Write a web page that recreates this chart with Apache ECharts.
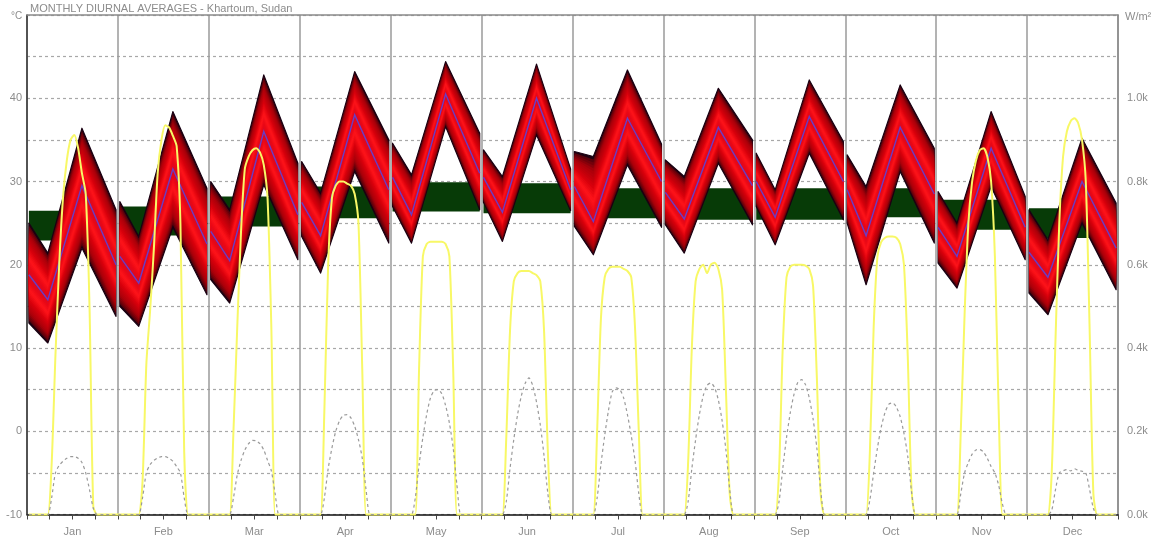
<!DOCTYPE html>
<html>
<head>
<meta charset="utf-8">
<script src="https://cdn.jsdelivr.net/npm/echarts@6/dist/echarts.min.js"></script>
<style>
  html, body { margin: 0; padding: 0; background: #fff; }
  #chart { width: 1170px; height: 547px; }
</style>
</head>
<body>
<div id="chart"></div>
<script>
// Monthly diurnal averages, Khartoum (Sudan)
const MONTHS = ['Jan', 'Feb', 'Mar', 'Apr', 'May', 'Jun', 'Jul', 'Aug', 'Sep', 'Oct', 'Nov', 'Dec'];

// Hours of the day at which the temperature envelope changes direction
const KEY_HOURS = [0, 5, 14, 23];

// Hourly temperature envelope (°C) at KEY_HOURS, per month
const TEMP_MAX = [
  [25.0, 21.4, 36.4, 26.6], [27.6, 23.4, 38.4, 29.2], [30.0, 26.6, 42.8, 32.2],
  [32.4, 28.6, 43.2, 35.0], [34.6, 30.8, 44.4, 35.8], [33.8, 30.6, 44.1, 31.5],
  [33.6, 33.0, 43.4, 34.5], [32.6, 30.6, 41.2, 35.0], [33.4, 29.0, 42.2, 34.8],
  [33.2, 29.4, 41.6, 34.0], [28.8, 25.0, 38.4, 28.2], [26.6, 23.0, 35.2, 27.4]
];
const TEMP_AVG = [
  [18.8, 15.8, 29.5, 20.0], [21.0, 17.8, 31.5, 22.5], [24.0, 20.5, 36.0, 26.0],
  [27.5, 23.5, 38.0, 29.0], [30.5, 26.0, 40.5, 31.0], [30.5, 26.3, 40.0, 29.0],
  [29.4, 25.2, 37.6, 30.0], [28.7, 25.5, 36.5, 29.5], [30.0, 25.7, 37.8, 30.0],
  [29.0, 23.5, 36.5, 28.5], [24.5, 21.0, 34.0, 24.5], [21.5, 18.5, 30.0, 22.0]
];
const TEMP_MIN = [
  [13.0, 10.6, 22.0, 13.8], [15.0, 12.6, 24.5, 16.4], [18.2, 15.4, 29.6, 20.6],
  [23.4, 19.0, 31.2, 22.6], [27.0, 22.6, 36.6, 26.6], [27.5, 22.8, 35.6, 26.5],
  [24.6, 21.2, 32.0, 24.5], [24.8, 21.4, 32.2, 24.8], [27.0, 22.4, 33.4, 25.4],
  [25.0, 17.6, 31.2, 22.6], [20.2, 17.2, 29.4, 20.6], [16.6, 14.0, 25.0, 17.0]
];

// Thermal comfort band (°C), per month
const COMFORT_LOW  = [22.9, 23.5, 24.6, 25.6, 26.4, 26.2, 25.6, 25.4, 25.4, 25.7, 24.2, 23.2];
const COMFORT_HIGH = [26.5, 27.0, 28.2, 29.4, 29.9, 29.8, 29.2, 29.2, 29.2, 29.2, 27.8, 26.8];

// Hourly solar radiation (W/m²), hours 0..23, per month
const DIRECT = [
  [0,0,0,0,0,0,120,380,600,760,850,900,912,880,820,770,500,20,0,0,0,0,0,0],
  [0,0,0,0,0,0,80,360,490,640,820,900,935,930,910,885,700,150,0,0,0,0,0,0],
  [0,0,0,0,0,0,200,450,680,830,860,875,880,870,840,760,450,0,0,0,0,0,0,0],
  [0,0,0,0,0,0,250,600,760,790,800,800,795,790,770,700,350,0,0,0,0,0,0,0],
  [0,0,0,0,0,0,0,350,620,650,655,655,655,655,650,620,350,0,0,0,0,0,0,0],
  [0,0,0,0,0,0,180,440,560,580,585,585,585,580,575,560,440,150,0,0,0,0,0,0],
  [0,0,0,0,0,0,200,470,570,590,595,595,595,590,585,570,450,200,0,0,0,0,0,0],
  [0,0,0,0,0,0,120,400,560,590,600,580,600,605,590,540,300,50,0,0,0,0,0,0],
  [0,0,0,0,0,0,100,400,570,595,600,600,600,598,590,550,330,50,0,0,0,0,0,0],
  [0,0,0,0,0,0,150,450,620,655,665,668,668,665,650,600,380,60,0,0,0,0,0,0],
  [0,0,0,0,0,0,200,480,700,800,850,875,880,860,800,620,250,0,0,0,0,0,0,0],
  [0,0,0,0,0,0,100,420,700,860,920,945,952,940,900,800,450,50,0,0,0,0,0,0]
];
const DIFFUSE = [
  [0,0,0,0,0,0,40,100,118,128,135,139,139,135,125,100,60,15,0,0,0,0,0,0],
  [0,0,0,0,0,0,40,100,120,130,136,139,139,135,128,115,100,40,0,0,0,0,0,0],
  [0,0,0,0,0,0,40,95,130,155,170,178,177,170,155,130,105,50,0,0,0,0,0,0],
  [0,0,0,0,0,0,40,110,160,200,225,238,240,232,212,180,135,60,0,0,0,0,0,0],
  [0,0,0,0,0,0,40,120,185,240,280,298,300,290,262,220,160,70,0,0,0,0,0,0],
  [0,0,0,0,0,0,30,110,180,240,285,315,328,310,270,215,140,50,0,0,0,0,0,0],
  [0,0,0,0,0,0,40,120,190,250,295,304,300,280,240,190,130,50,0,0,0,0,0,0],
  [0,0,0,0,0,0,30,110,180,240,285,310,316,305,275,225,155,60,0,0,0,0,0,0],
  [0,0,0,0,0,0,30,110,185,245,290,318,324,312,280,230,160,60,0,0,0,0,0,0],
  [0,0,0,0,0,0,35,100,160,210,245,265,268,258,235,195,140,55,0,0,0,0,0,0],
  [0,0,0,0,0,0,50,100,125,145,155,156,150,135,115,100,70,25,0,0,0,0,0,0],
  [0,0,0,0,0,0,10,60,100,105,108,105,110,106,104,100,60,15,0,0,0,0,0,0]
];

// Axis tick labels
const TEMP_TICKS = [-10, 0, 10, 20, 30, 40];
const RAD_TICKS = [0, 200, 400, 600, 800, 1000];

const HOURS_PER_MONTH = 24;
const FONT = 'Liberation Sans, Arial, sans-serif';
const TEXT_GREY = '#8c8c8c';

// position of an hour inside the month strip
function hourX(m, h) { return m * HOURS_PER_MONTH + h + 0.5; }

// colour profile across the temperature band: dark rim -> bright red core
const SHADE_STOPS = [
  [0.00, [30, 0, 16]], [0.05, [95, 0, 10]], [0.20, [170, 0, 10]],
  [0.45, [215, 0, 12]], [0.66, [255, 20, 26]], [0.84, [232, 8, 22]], [1.00, [210, 10, 40]]
];
function shadeAt(f) {
  for (let i = 1; i < SHADE_STOPS.length; i++) {
    if (f <= SHADE_STOPS[i][0]) {
      const [f0, c0] = SHADE_STOPS[i - 1];
      const [f1, c1] = SHADE_STOPS[i];
      const t = (f - f0) / (f1 - f0);
      const c = c0.map((v, k) => Math.round(v + (c1[k] - v) * t));
      return 'rgb(' + c.join(',') + ')';
    }
  }
  return 'rgb(210,10,40)';
}
const LAYERS = 22;

function renderBand(params, api) {
  const m = api.value(0);
  const xs = KEY_HOURS.map(h => hourX(m, h));
  const hi = TEMP_MAX[m], av = TEMP_AVG[m], lo = TEMP_MIN[m];
  const children = [];
  for (let i = 0; i < LAYERS; i++) {
    const f = i / LAYERS;
    const top = xs.map((x, k) => api.coord([x, hi[k] - (hi[k] - av[k]) * f]));
    const bot = xs.map((x, k) => api.coord([x, lo[k] + (av[k] - lo[k]) * f])).reverse();
    children.push({
      type: 'polygon',
      shape: { points: top.concat(bot) },
      style: i === 0
        ? { fill: shadeAt(f), stroke: '#1a0012', lineWidth: 1.2, lineJoin: 'round' }
        : { fill: shadeAt(f) }
    });
  }
  children.push({
    type: 'polyline',
    shape: { points: xs.map((x, k) => api.coord([x, av[k]])) },
    style: { stroke: '#6b3cc4', lineWidth: 1.4, fill: null }
  });
  return { type: 'group', children };
}

function renderComfort(params, api) {
  const m = api.value(0);
  const p0 = api.coord([hourX(m, 0), COMFORT_HIGH[m]]);
  const p1 = api.coord([hourX(m, 23), COMFORT_LOW[m]]);
  return {
    type: 'rect',
    shape: { x: p0[0], y: p0[1], width: p1[0] - p0[0], height: p1[1] - p0[1] },
    style: { fill: '#073b07' }
  };
}

function hourlySeries(table) {
  const out = [];
  table.forEach((row, m) => row.forEach((v, h) => out.push([hourX(m, h), v])));
  return out;
}

const monthIndex = MONTHS.map((_, i) => [i, 0]);

const chart = echarts.init(document.getElementById('chart'), null, { renderer: 'canvas' });
chart.setOption({
  animation: false,
  backgroundColor: '#ffffff',
  grid: { left: 27, right: 52, top: 15, bottom: 32.5, containLabel: false },
  graphic: [
    { type: 'text', left: 30, top: 3, style: { text: 'MONTHLY DIURNAL AVERAGES - Khartoum, Sudan', font: '11px ' + FONT, fill: TEXT_GREY } },
    { type: 'text', left: 11, top: 11, style: { text: '°C', font: '10px ' + FONT, fill: TEXT_GREY } },
    { type: 'text', left: 1125, top: 11, style: { text: 'W/m²', font: '11px ' + FONT, fill: TEXT_GREY } }
  ],
  xAxis: [
    {
      type: 'value', min: 0, max: MONTHS.length * HOURS_PER_MONTH, interval: 6,
      axisLine: { show: true, onZero: false, lineStyle: { color: '#111', width: 1.5 } },
      axisTick: { show: true, length: 5, lineStyle: { color: '#444' } },
      splitLine: { show: false },
      axisLabel: {
        margin: 12, color: TEXT_GREY, fontFamily: FONT, fontSize: 11,
        showMinLabel: true, showMaxLabel: true,
        formatter: v => (v % HOURS_PER_MONTH === 12 ? MONTHS[(v - 12) / HOURS_PER_MONTH] : '')
      }
    },
    {
      type: 'value', position: 'top', min: 0, max: MONTHS.length * HOURS_PER_MONTH, interval: HOURS_PER_MONTH,
      axisLine: { show: true, onZero: false, lineStyle: { color: '#8a8a8a', width: 1.5 } },
      axisTick: { show: false }, axisLabel: { show: false },
      splitLine: { show: true, lineStyle: { color: '#9a9a9a', width: 1.5 } }
    }
  ],
  yAxis: [
    {
      type: 'value', min: -10, max: 50, interval: 5,
      axisLine: { show: true, onZero: false, lineStyle: { color: '#333', width: 1.5 } },
      axisTick: { show: false },
      splitLine: { show: true, lineStyle: { color: '#a8a8a8', type: [3, 3], width: 1.2 } },
      axisLabel: {
        margin: 5, color: TEXT_GREY, fontFamily: FONT, fontSize: 11,
        formatter: v => (TEMP_TICKS.includes(v) ? String(v) : '')
      }
    },
    {
      type: 'value', min: 0, max: 1200, interval: 100, position: 'right',
      axisLine: { show: true, onZero: false, lineStyle: { color: '#8a8a8a', width: 1.5 } },
      axisTick: { show: false },
      splitLine: { show: false },
      axisLabel: {
        margin: 9, color: TEXT_GREY, fontFamily: FONT, fontSize: 11,
        formatter: v => (RAD_TICKS.includes(v) ? (v / 1000).toFixed(1) + 'k' : '')
      }
    }
  ],
  series: [
    {
      name: 'Comfort band', type: 'custom', xAxisIndex: 0, yAxisIndex: 0, z: 2,
      renderItem: renderComfort, data: monthIndex, clip: true
    },
    {
      name: 'Temperature', type: 'custom', xAxisIndex: 0, yAxisIndex: 0, z: 3,
      renderItem: renderBand, data: monthIndex, clip: true
    },
    {
      name: 'Direct radiation', type: 'line', xAxisIndex: 0, yAxisIndex: 1, z: 5,
      data: hourlySeries(DIRECT), showSymbol: false, smooth: 0.25, clip: false,
      lineStyle: { color: '#f8f866', width: 2 }
    },
    {
      name: 'Diffuse radiation', type: 'line', xAxisIndex: 0, yAxisIndex: 1, z: 6,
      data: hourlySeries(DIFFUSE), showSymbol: false, smooth: 0.25, clip: false,
      lineStyle: { color: '#9a9a9a', width: 1.2, type: [3, 3] }
    }
  ]
});
</script>
</body>
</html>
